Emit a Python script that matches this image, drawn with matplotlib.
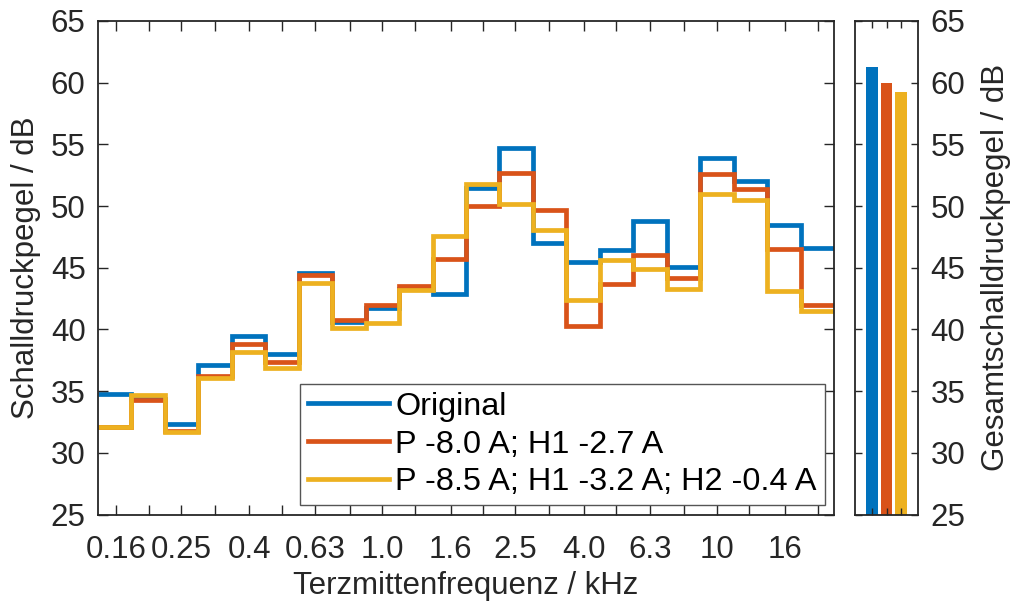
import numpy as np
import matplotlib
matplotlib.use('Agg')
from matplotlib import pyplot as plt

# Terzbaender (nominal, kHz) und Bandnummer n -> exakte Mitte 10^(n/10)
freqs = [0.16, 0.2, 0.25, 0.315, 0.4, 0.5, 0.63, 0.8, 1.0, 1.25, 1.6, 2.0,
         2.5, 3.15, 4.0, 5.0, 6.3, 8.0, 10, 12.5, 16, 20]
band_nr = np.arange(-8, 14)
tick_labels = ['0.16', '', '0.25', '', '0.4', '', '0.63', '', '1.0', '', '1.6', '',
               '2.5', '', '4.0', '', '6.3', '', '10', '', '16', '']

original = [34.8, 34.4, 32.3, 37.1, 39.5, 38.0, 44.6, 40.6, 41.7, 43.3, 42.9, 51.5,
            54.7, 47.0, 45.5, 46.4, 48.8, 45.1, 53.9, 52.0, 48.5, 46.6]
p_h1 = [32.1, 34.3, 31.8, 36.2, 38.8, 37.4, 44.4, 40.8, 42.0, 43.5, 45.7, 50.0,
        52.7, 49.7, 40.3, 43.7, 46.0, 44.2, 52.6, 51.4, 46.5, 42.0]
p_h1_h2 = [32.1, 34.7, 31.7, 36.1, 38.2, 36.9, 43.8, 40.1, 40.5, 43.2, 47.6, 51.8,
           50.2, 48.1, 42.4, 45.6, 44.9, 43.3, 51.0, 50.5, 43.1, 41.5]
labels = ['Original', 'P -8.0 A; H1 -2.7 A', 'P -8.5 A; H1 -3.2 A; H2 -0.4 A']
totals = [61.25, 60.0, 59.25]

colors = ['#0072BD', '#D95319', '#EDB120']
axcol = '#262626'
fs = 22.5
fs_leg = 23.3

plt.rcParams['font.family'] = ['Liberation Sans', 'DejaVu Sans']
plt.rcParams['font.size'] = fs

fig = plt.figure(figsize=(10.13, 6.02), dpi=100)
ax = fig.add_axes([98/1013, 1-514.5/602, 736/1013, 493.5/602])
ax2 = fig.add_axes([855/1013, 1-514.5/602, 63/1013, 493.5/602])

edges = 10**((np.append(band_nr, band_nr[-1]+1) - 0.5)/10)
for vals, c, lab in zip([original, p_h1, p_h1_h2], colors, labels):
    ax.stairs(vals, edges, baseline=None, color=c, lw=3.4, label=lab)

ax.set_xscale('log')
ax.set_xlim(edges[0], edges[-1])
ax.set_ylim(25, 65)
ax.set_xticks(freqs)
ax.set_xticklabels(tick_labels)
ax.xaxis.set_minor_locator(matplotlib.ticker.NullLocator())
ax.set_yticks(np.arange(25, 66, 5))
ax.tick_params(direction='in', length=7, width=1, colors=axcol, labelsize=fs,
               top=True, right=True, pad=9)
ax.tick_params(axis='x', pad=15)
ax.set_xlabel('Terzmittenfrequenz / kHz', color=axcol, fontsize=fs, labelpad=4)
ax.set_ylabel('Schalldruckpegel / dB', color=axcol, fontsize=fs, labelpad=7)
for s in ax.spines.values():
    s.set_color(axcol)
    s.set_linewidth(1.3)

leg = ax.legend(loc='lower right', fontsize=fs_leg, frameon=True, fancybox=False,
                framealpha=1, edgecolor='#555555', handlelength=2.5,
                borderaxespad=0.28, borderpad=0.25, labelspacing=0.24,
                handletextpad=0.2)
leg.get_frame().set_linewidth(1.0)

ax2.bar([1, 2, 3], totals, width=0.8, color=colors, bottom=0)
ax2.set_xlim(-0.15, 4.15)
ax2.set_ylim(25, 65)
ax2.set_xticks([1, 2, 3])
ax2.set_xticklabels([])
ax2.set_yticks(np.arange(25, 66, 5))
ax2.yaxis.tick_right()
ax2.yaxis.set_label_position('right')
ax2.tick_params(direction='in', length=5, width=1, colors=axcol, labelsize=fs,
                top=True, left=True, right=True, pad=9)
ax2.set_ylabel('Gesamtschalldruckpegel / dB', color=axcol, fontsize=fs, labelpad=11)
for s in ax2.spines.values():
    s.set_color(axcol)
    s.set_linewidth(1.3)

fig.savefig('out.png', dpi=100)
